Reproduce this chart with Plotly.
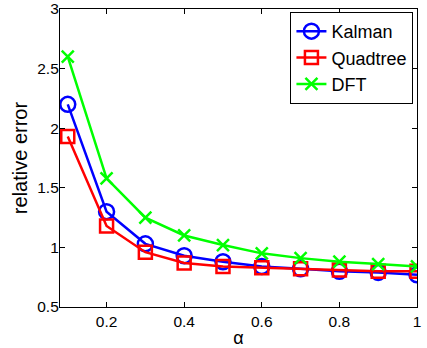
import plotly.graph_objects as go

alpha = [0.1, 0.2, 0.3, 0.4, 0.5, 0.6, 0.7, 0.8, 0.9, 1.0]
kalman = [2.20, 1.30, 1.03, 0.93, 0.88, 0.84, 0.82, 0.80, 0.79, 0.77]
quadtree = [1.93, 1.18, 0.96, 0.87, 0.84, 0.83, 0.82, 0.81, 0.80, 0.80]
dft = [2.60, 1.58, 1.25, 1.10, 1.02, 0.95, 0.91, 0.88, 0.86, 0.84]

fig = go.Figure()
fig.add_trace(go.Scatter(x=alpha, y=kalman, name="Kalman", mode="lines+markers",
                         line=dict(color="#0000ff", width=2.5),
                         marker=dict(symbol="circle-open", size=15, color="#0000ff", line=dict(width=2.5))))
fig.add_trace(go.Scatter(x=alpha, y=quadtree, name="Quadtree", mode="lines+markers",
                         line=dict(color="#ff0000", width=2.5),
                         marker=dict(symbol="square-open", size=13, color="#ff0000", line=dict(width=2.5))))
fig.add_trace(go.Scatter(x=alpha, y=dft, name="DFT", mode="lines+markers",
                         line=dict(color="#00ff00", width=2.5),
                         marker=dict(symbol="x-thin-open", size=12, color="#00ff00", line=dict(width=2.5, color="#00ff00"))))

font_family = "Liberation Sans, Arial"
axis_common = dict(showgrid=False, zeroline=False, showline=True, linecolor="black", linewidth=1.2,
                   mirror="ticks", ticks="inside", ticklen=5, tickcolor="black",
                   ticklabeloverflow="allow", automargin=False,
                   tickfont=dict(family=font_family, size=15.5, color="black"))
fig.update_xaxes(range=[0.08, 1.0], tickmode="array", tickvals=[0.2, 0.4, 0.6, 0.8, 1.0],
                 ticktext=["0.2", "0.4", "0.6", "0.8", "1"],
                 title=dict(text="α", font=dict(family=font_family, size=18, color="black"), standoff=3),
                 **axis_common)
fig.update_yaxes(range=[0.5, 3.0], tickmode="array", tickvals=[0.5, 1, 1.5, 2, 2.5, 3],
                 ticktext=["0.5", "1", "1.5", "2", "2.5", "3"],
                 ticklabelstandoff=-3,
                 title=dict(text="relative error", font=dict(family=font_family, size=20, color="black"), standoff=4),
                 **axis_common)
fig.update_layout(
    width=427, height=348,
    margin=dict(l=60, r=10, t=9, b=41),
    plot_bgcolor="white", paper_bgcolor="white",
    showlegend=True,
    legend=dict(x=0.99, y=0.99, xanchor="right", yanchor="top",
                bgcolor="white", bordercolor="black", borderwidth=1,
                font=dict(family=font_family, size=18, color="black"),
                tracegroupgap=0, itemwidth=30),
)
fig.write_html("out.html")
